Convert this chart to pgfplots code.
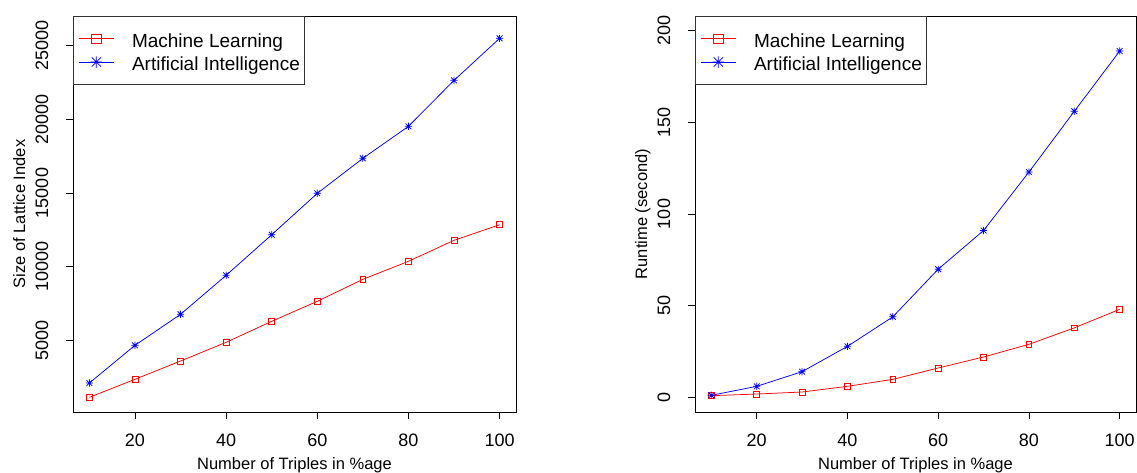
\documentclass[border=0pt]{standalone}
\usepackage{fontspec}
\setmainfont{Liberation Sans}
\usepackage{pgfplots}
\pgfplotsset{compat=1.18}

\pgfdeclareplotmark{rstar}{%
  \pgfpathmoveto{\pgfqpoint{-\pgfplotmarksize}{0pt}}%
  \pgfpathlineto{\pgfqpoint{\pgfplotmarksize}{0pt}}%
  \pgfpathmoveto{\pgfqpoint{0pt}{-\pgfplotmarksize}}%
  \pgfpathlineto{\pgfqpoint{0pt}{\pgfplotmarksize}}%
  \pgfpathmoveto{\pgfqpoint{-0.8\pgfplotmarksize}{-0.8\pgfplotmarksize}}%
  \pgfpathlineto{\pgfqpoint{0.8\pgfplotmarksize}{0.8\pgfplotmarksize}}%
  \pgfpathmoveto{\pgfqpoint{-0.8\pgfplotmarksize}{0.8\pgfplotmarksize}}%
  \pgfpathlineto{\pgfqpoint{0.8\pgfplotmarksize}{-0.8\pgfplotmarksize}}%
  \pgfusepathqstroke}

\pgfplotstableread{
x ml ai
10 1131 2102
20 2353 4661
30 3595 6765
40 4864 9412
50 6290 12168
60 7647 14977
70 9140 17353
80 10362 19525
90 11788 22647
100 12846 25498
}\sizedata

\pgfplotstableread{
x ml ai
10 0.9 1.1
20 1.8 6.0
30 2.9 14.0
40 6.0 27.8
50 9.8 43.9
60 16.0 69.9
70 22.0 91.0
80 28.9 122.9
90 37.9 156.0
100 48.0 188.9
}\timedata

\pgfplotsset{
  rstyle/.style={
    scale only axis, width=443pt, height=396pt, anchor=south west,
    xmin=6.4, xmax=103.6, xtick={20,40,60,80,100},
    xtick pos=bottom, ytick pos=left,
    scaled y ticks=false, scaled x ticks=false,
    tick align=outside, major tick length=7pt,
    tick style={black, line width=0.8pt},
    axis line style={black, line width=0.8pt},
    ticklabel style={font=\fontsize{18}{20}\selectfont},
    /pgf/number format/assume math mode=true,
    /pgf/number format/1000 sep={},
    xticklabel style={anchor=base, yshift=-28pt},
    yticklabel style={rotate=90, anchor=base, yshift=18pt},
    label style={font=\fontsize{16.5}{18}\selectfont},
    xlabel style={at={([yshift=-58pt]axis description cs:0.5,0)}, anchor=base},
    ylabel style={at={([xshift=-48pt]axis description cs:0,0.5)}, anchor=base},
    legend style={at={(0,1)}, anchor=north west, draw=black!80, line width=0.8pt,
      font=\fontsize{19}{22}\selectfont, inner xsep=4.7pt, inner ysep=10.7pt,
      row sep=0pt,
      /tikz/every odd column/.append style={column sep=17.4pt},
      nodes={inner xsep=0pt, inner ysep=0pt, text height=20pt, text depth=3.3pt}},
    legend cell align=left,
    legend image code/.code={%
      \draw[mark repeat=2,mark phase=2,line width=0.9pt,
        every mark/.append style={scale=1.6}] plot coordinates {(0pt,0pt)(17.8pt,0pt)(35.6pt,0pt)};},
    mlstyle/.style={red, line width=0.75pt, mark=square, mark size=2.9pt, mark options={line width=0.75pt}},
    aistyle/.style={blue, line width=0.75pt, mark=rstar, mark size=3.6pt, mark options={line width=0.75pt}},
  }
}

\begin{document}
\begin{tikzpicture}
\useasboundingbox (0pt,0pt) rectangle (1137pt,473pt);
\begin{axis}[rstyle, at={(73pt,61pt)},
  ymin=134, ymax=27016, ytick={5000,10000,15000,20000,25000},
  xlabel={Number of Triples in \%age}, ylabel={Size of Lattice Index}]
\addplot[mlstyle] table[x=x,y=ml] {\sizedata};
\addlegendentry{Machine Learning}
\addplot[aistyle] table[x=x,y=ai] {\sizedata};
\addlegendentry{Artificial Intelligence\hspace{4.3pt}}
\end{axis}
\begin{axis}[rstyle, at={(695pt,61pt)}, width=441pt,
  ymin=-8, ymax=208, ytick={0,50,100,150,200},
  xlabel={Number of Triples in \%age}, ylabel={Runtime (second)}]
\addplot[mlstyle] table[x=x,y=ml] {\timedata};
\addlegendentry{Machine Learning}
\addplot[aistyle] table[x=x,y=ai] {\timedata};
\addlegendentry{Artificial Intelligence\hspace{4.3pt}}
\end{axis}
\end{tikzpicture}
\end{document}
